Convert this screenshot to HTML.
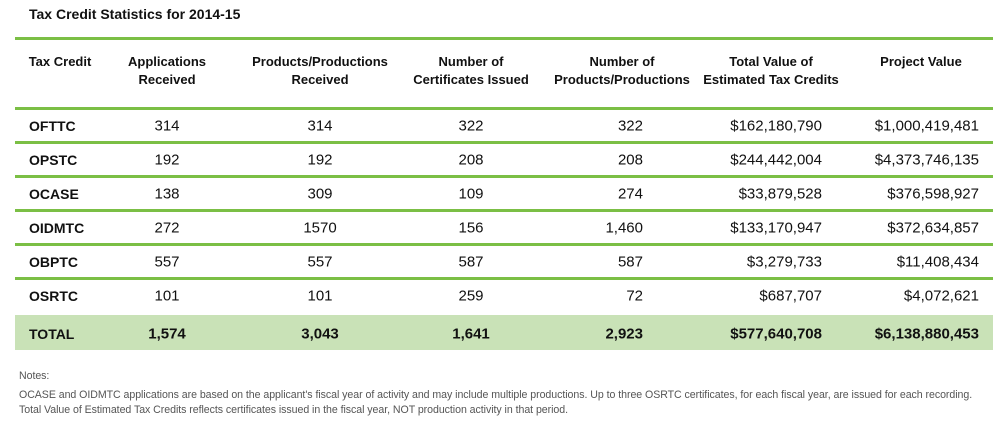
<!DOCTYPE html>
<html><head><meta charset="utf-8"><style>
body{margin:0;width:1005px;height:424px;background:#fff;position:relative;font-family:"Liberation Sans",sans-serif;color:#111;overflow:hidden}
.a{position:absolute;white-space:nowrap}
.ln{position:absolute;left:15px;width:978px;height:3px;background:#7bbf45}
.h{font-size:13px;font-weight:bold;text-align:center;line-height:18px;transform:translateX(-50%)}
.c{font-size:15px;transform:translate(-50%,-50%)}
.r{font-size:15px;transform:translate(-100%,-50%)}
.l{font-size:14px;font-weight:bold;transform:translateY(-50%)}
.b{font-weight:bold}
.n{font-size:10.6px;letter-spacing:-0.05px;color:#555;left:19px}
</style></head><body>
<div class="a" style="left:29px;top:6px;font-size:14px;font-weight:bold">Tax Credit Statistics for 2014-15</div>
<div class="ln" style="top:37px"></div>
<div class="a h" style="left:60px;top:53px">Tax Credit</div>
<div class="a h" style="left:167px;top:53px">Applications<br>Received</div>
<div class="a h" style="left:320px;top:53px">Products/Productions<br>Received</div>
<div class="a h" style="left:471px;top:53px">Number of<br>Certificates Issued</div>
<div class="a h" style="left:622px;top:53px">Number of<br>Products/Productions</div>
<div class="a h" style="left:771px;top:53px">Total Value of<br>Estimated Tax Credits</div>
<div class="a h" style="left:921px;top:53px">Project Value</div>
<div class="a" style="left:15px;top:315px;width:978px;height:35px;background:#c9e2b7"></div>
<div id="rows"></div>
<div class="a n" style="top:370px">Notes:</div>
<div class="a n" style="top:389px">OCASE and OIDMTC applications are based on the applicant's fiscal year of activity and may include multiple productions. Up to three OSRTC certificates, for each fiscal year, are issued for each recording.</div>
<div class="a n" style="top:404px">Total Value of Estimated Tax Credits reflects certificates issued in the fiscal year, NOT production activity in that period.</div>
<script>
const credits=["OFTTC","OPSTC","OCASE","OIDMTC","OBPTC","OSRTC","TOTAL"];
const apps=["314","192","138","272","557","101","1,574"];
const prods=["314","192","309","1570","557","101","3,043"];
const certs=["322","208","109","156","587","259","1,641"];
const nprods=["322","208","274","1,460","587","72","2,923"];
const totals=["$162,180,790","$244,442,004","$33,879,528","$133,170,947","$3,279,733","$687,707","$577,640,708"];
const projects=["$1,000,419,481","$4,373,746,135","$376,598,927","$372,634,857","$11,408,434","$4,072,621","$6,138,880,453"];
const host=document.getElementById('rows');
function add(cls,x,y,t,name,bold){const d=document.createElement('div');d.className='a '+cls+(bold?' b':'');d.style.left=x+'px';d.style.top=y+'px';d.textContent=t;


host.appendChild(d);}
credits.forEach((c,i)=>{const y=126+i*34+(i==6?4:0);const k=c.toLowerCase();const b=i==6;
if(i<6){const ln=document.createElement('div');ln.className='ln';ln.style.top=(107+i*34)+'px';


host.appendChild(ln);}
add('l',29,y,c,k+'-label',true);
add('c',167,y,apps[i],k+'-applications',b);
add('c',320,y,prods[i],k+'-products-received',b);
add('c',471,y,certs[i],k+'-certificates',b);
add('r',643,y,nprods[i],k+'-number-products',b);
add('r',822,y,totals[i],k+'-total-value',b);
add('r',979,y,projects[i],k+'-project-value',b);});
</script>
</body></html>
